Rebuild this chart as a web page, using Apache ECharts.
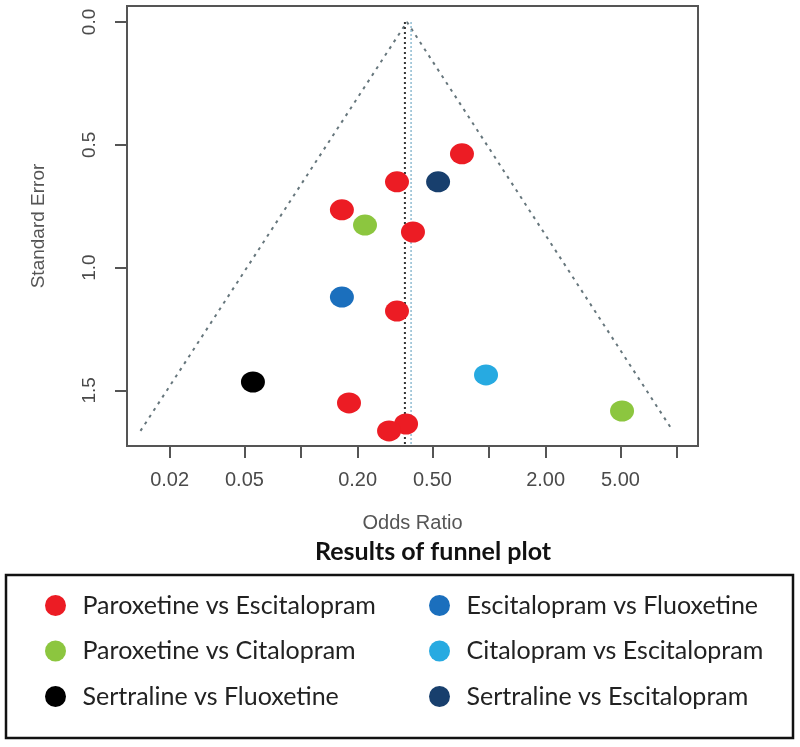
<!DOCTYPE html>
<html>
<head>
<meta charset="utf-8">
<script src="https://cdn.jsdelivr.net/npm/echarts@6/dist/echarts.min.js"></script>
<style>html,body{margin:0;padding:0;background:#fff}#chart{width:800px;height:747px}</style>
</head>
<body>
<div id="chart"></div>
<script>
// ---- data (odds ratio, standard error) ----
const seriesNames = ['Paroxetine vs Escitalopram','Paroxetine vs Citalopram','Sertraline vs Fluoxetine',
                     'Escitalopram vs Fluoxetine','Citalopram vs Escitalopram','Sertraline vs Escitalopram'];
const parEscOR = [0.718, 0.324, 0.165, 0.394, 0.324, 0.180, 0.362, 0.294];
const parEscSE = [0.537, 0.651, 0.765, 0.855, 1.177, 1.551, 1.637, 1.665];
const parCitOR = [0.219, 5.10];
const parCitSE = [0.827, 1.584];
const serFluOR = [0.0555];
const serFluSE = [1.466];
const escFluOR = [0.165];
const escFluSE = [1.120];
const citEscOR = [0.964];
const citEscSE = [1.437];
const serEscOR = [0.536];
const serEscSE = [0.651];
// funnel outline and reference lines
const funnelOR = [0.014, 0.366, 9.5];
const funnelSE = [1.665, 0, 1.665];
const estLineOR = [0.357, 0.357];
const estLineSE = [0.0, 1.726];
const refLineOR = [0.385, 0.385];
const refLineSE = [0.0, 1.726];
// axes
const xTickOR = [0.02, 0.05, 0.1, 0.2, 0.5, 1, 2, 5, 10];
const xLabelOR = [0.02, 0.05, 0.2, 0.5, 2, 5];
const yTicks = [0, 0.5, 1.0, 1.5];
const xRangeOR = [0.01187, 12.93];
const yRange = [-0.065, 1.7264];

const colors = ['#ec1c24', '#8cc63f', '#000000', '#1b6fbd', '#27aae1', '#183f6d'];

const L = Math.log10;
const pts = (ors, ses) => ors.map((o, i) => [L(o), ses[i]]);
const ellipse = 'path://M0,10.5A12,10.5 0 1 0 24,10.5A12,10.5 0 1 0 0,10.5Z';

const scatterData = [pts(parEscOR, parEscSE), pts(parCitOR, parCitSE), pts(serFluOR, serFluSE),
                     pts(escFluOR, escFluSE), pts(citEscOR, citEscSE), pts(serEscOR, serEscSE)];

const axisFont = 'Liberation Sans, Arial, sans-serif';
const chart = echarts.init(document.getElementById('chart'), null, {renderer: 'canvas'});

const series = [
  {type: 'line', data: pts(funnelOR, funnelSE), symbol: 'none', silent: true, z: 1,
   lineStyle: {color: '#66767c', width: 2, type: [3, 5]}},
  {type: 'line', data: pts(refLineOR, refLineSE), symbol: 'none', silent: true, z: 1,
   lineStyle: {color: '#8fbcd2', width: 1.5, type: [2, 2]}},
  {type: 'line', data: pts(estLineOR, estLineSE), symbol: 'none', silent: true, z: 2,
   lineStyle: {color: '#333', width: 2, type: [2, 3]}}
];
seriesNames.forEach((n, i) => {
  series.push({type: 'scatter', name: n, data: scatterData[i], symbol: ellipse, symbolSize: [24, 21],
    itemStyle: {color: colors[i], opacity: 1}, z: 5});
});

const legendCommon = {orient: 'vertical', top: 593, itemWidth: 44, itemHeight: 21, itemGap: 20.5,
  icon: 'circle', padding: 0, selectedMode: false,
  textStyle: {fontFamily: 'Lato, sans-serif', fontSize: 25, color: '#222', lineHeight: 25}};

chart.setOption({
  backgroundColor: '#fff',
  animation: false,
  color: colors,
  title: {text: 'Results of funnel plot', left: 315, top: 539, padding: 0,
    textStyle: {fontFamily: 'Lato, sans-serif', fontSize: 25, fontWeight: 'bold', color: '#111'}},
  legend: [
    Object.assign({}, legendCommon, {left: 45, data: seriesNames.slice(0, 3)}),
    Object.assign({}, legendCommon, {left: 429, data: seriesNames.slice(3)})
  ],
  graphic: [{type: 'rect', shape: {x: 6, y: 575, width: 787, height: 163}, silent: true,
    style: {fill: 'none', stroke: '#111', lineWidth: 2.5}}],
  grid: {left: 127, top: 6, right: 102, bottom: 301, show: true, borderColor: '#555', borderWidth: 2,
    backgroundColor: 'transparent'},
  xAxis: {type: 'value', min: L(xRangeOR[0]), max: L(xRangeOR[1]),
    name: 'Odds Ratio', nameLocation: 'middle', nameGap: 67,
    nameTextStyle: {fontFamily: axisFont, fontSize: 20, color: '#555'},
    axisLine: {show: false, onZero: false}, splitLine: {show: false},
    axisTick: {show: true, length: 12, inside: false, customValues: xTickOR.map(L),
      lineStyle: {color: '#555', width: 2}},
    axisLabel: {customValues: xLabelOR.map(L), margin: 24, fontFamily: axisFont, fontSize: 20, color: '#4a4a4a',
      formatter: v => Math.pow(10, v).toFixed(2)}},
  yAxis: {type: 'value', inverse: true, min: yRange[0], max: yRange[1],
    name: 'Standard Error', nameLocation: 'middle', nameGap: 79, nameRotate: 90,
    nameTextStyle: {fontFamily: axisFont, fontSize: 19, color: '#555'},
    axisLine: {show: false, onZero: false}, splitLine: {show: false},
    axisTick: {show: true, length: 12, inside: false, customValues: yTicks,
      lineStyle: {color: '#555', width: 2}},
    axisLabel: {customValues: yTicks, rotate: 90, margin: 28, fontFamily: axisFont, fontSize: 19, color: '#4a4a4a',
      formatter: v => v.toFixed(1)}},
  series: series
});
</script>
</body>
</html>
